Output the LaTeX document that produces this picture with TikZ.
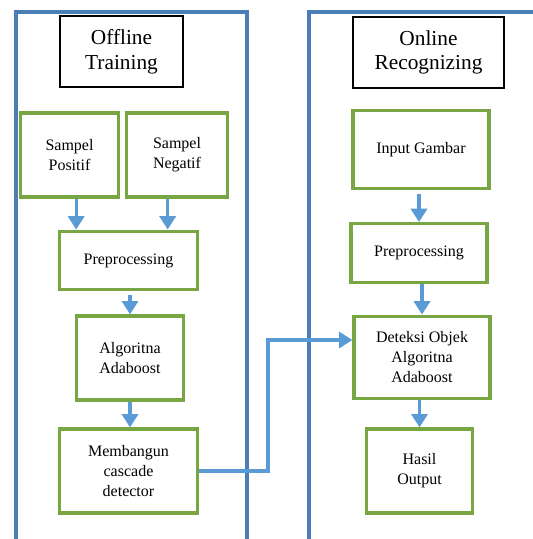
\documentclass[tikz,border=0pt]{standalone}
\usepackage{fontspec}
\setmainfont{Liberation Serif}
\usepackage{tikz}
\usetikzlibrary{arrows,arrows.meta,calc}
\definecolor{lanecol}{RGB}{74,126,180}
\definecolor{boxgreen}{RGB}{119,166,66}
\definecolor{arrcol}{RGB}{91,155,213}
\tikzset{
  lane/.style={draw=lanecol, line width=2.4pt},
  titlebox/.style={draw=black, line width=1.6pt, align=center, font=\fontsize{16}{18.5}\selectfont, inner sep=0pt},
  gbox/.style={draw=boxgreen, line width=2.4pt, align=center, font=\fontsize{12}{15}\selectfont, inner sep=0pt},
  arr/.style={draw=arrcol, line width=2.4pt, -{Triangle[width=12pt,length=10pt]}}
}
\begin{document}
\begin{tikzpicture}[x=0.75pt,y=-0.75pt]
\useasboundingbox (0,0) rectangle (532,539);
\draw[lane] (16,541) -- (16,12) -- (247,12) -- (247,541);
\draw[lane] (309,541) -- (309,12) -- (534,12);
\node[titlebox, minimum width=92pt, minimum height=53pt] (offT) at (121.5,51.5) {Offline\\Training};
\node[titlebox, minimum width=113pt, minimum height=53pt] (onT) at (428.5,52.5) {Online\\Recognizing};
\node[gbox, minimum width=73pt, minimum height=63pt] (sp) at (69.5,155) {Sampel\\Positif};
\node[gbox, minimum width=76pt, minimum height=63pt] (sn) at (177,155) {Sampel\\Negatif};
\node[gbox, minimum width=103pt, minimum height=44pt] (pre1) at (128.5,260.5) {Preprocessing};
\node[gbox, minimum width=80pt, minimum height=63pt] (ada1) at (130,358) {Algoritna\\Adaboost};
\node[gbox, minimum width=103pt, minimum height=63pt] (cas) at (128.5,471) {Membangun\\cascade\\detector};
\node[gbox, minimum width=102pt, minimum height=58pt] (inp) at (421,149.5) {Input Gambar};
\node[gbox, minimum width=102pt, minimum height=44pt] (pre2) at (419,253) {Preprocessing};
\node[gbox, minimum width=102pt, minimum height=62pt] (det) at (422,357.5) {Deteksi Objek\\Algoritna\\Adaboost};
\node[gbox, minimum width=79pt, minimum height=63pt] (hasil) at (419.5,471) {Hasil\\Output};
\coordinate (bend) at (268,340);
\draw[arr] ([xshift=5pt]sp.south) -- ([xshift=5pt]sp.south |- pre1.north);
\draw[arr] ([xshift=-7pt]sn.south) -- ([xshift=-7pt]sn.south |- pre1.north);
\draw[arr] ([yshift=-3pt]pre1.south -| ada1.north) -- (ada1.north);
\draw[arr] (ada1.south) -- (ada1.south |- cas.north);
\draw[arr] ([yshift=-3pt]inp.south -| pre2.north) -- (pre2.north);
\draw[arr] (pre2.south -| det.north) -- (det.north);
\draw[arr] (det.south -| hasil.north) -- (hasil.north);
\draw[arr] (cas.east) -| (bend) -- (bend -| det.west);
\end{tikzpicture}
\end{document}
